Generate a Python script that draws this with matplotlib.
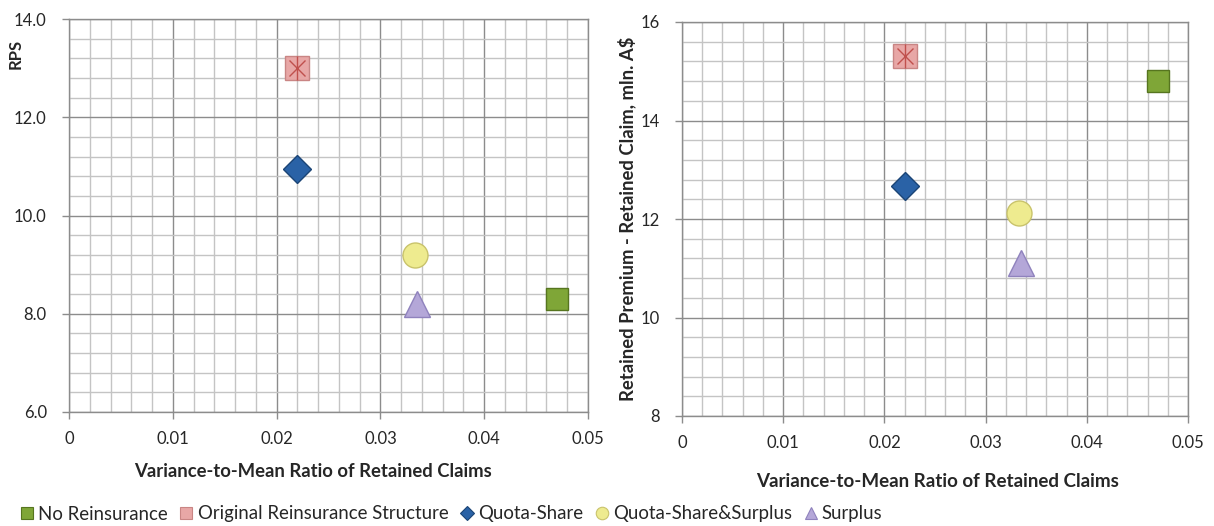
import matplotlib
matplotlib.use("Agg")
import matplotlib.pyplot as plt
from matplotlib.lines import Line2D
from matplotlib.ticker import MultipleLocator, FixedLocator, FixedFormatter

plt.rcParams['font.family'] = ['Lato', 'DejaVu Sans']

# ---- data ----
series_names = ["No Reinsurance", "Original Reinsurance Structure", "Quota-Share",
                "Quota-Share&Surplus", "Surplus"]
vmr = [0.047, 0.022, 0.022, 0.0333, 0.0335]          # variance-to-mean ratio
rps = [8.3, 13.0, 10.95, 9.2, 8.2]                    # RPS
profit = [14.8, 15.3, 12.68, 12.12, 11.1]             # retained premium - retained claim

x_ticks = [0, 0.01, 0.02, 0.03, 0.04, 0.05]
x_tick_labels = ["0", "0.01", "0.02", "0.03", "0.04", "0.05"]
rps_ticks = [6, 8, 10, 12, 14]
rps_tick_labels = ["6.0", "8.0", "10.0", "12.0", "14.0"]
profit_ticks = [8, 10, 12, 14, 16]
profit_tick_labels = ["8", "10", "12", "14", "16"]

# ---- styles ----
styles = [
    dict(marker='s', ms=16.5, mfc='#7FA637', mec='#56751F'),
    dict(marker='s', ms=17.5, mfc='#E8A7A6', mec='#C98584'),
    dict(marker='D', ms=14, mfc='#2A62A6', mec='#1B4576'),
    dict(marker='o', ms=18, mfc='#EEEB8F', mec='#C9C36B'),
    dict(marker='^', ms=18.5, mfc='#B4A7D8', mec='#8F82BD'),
]
text_col = '#262626'
W, H = 1214, 526
fig = plt.figure(figsize=(W / 100, H / 100), dpi=100)


def make_axes(l, r, t, b):
    return fig.add_axes([l / W, 1 - b / H, (r - l) / W, (b - t) / H])


def style_axes(ax, yticks, ylabels, ylim, ymin_step):
    ax.set_xlim(0, 0.05)
    ax.set_ylim(*ylim)
    ax.xaxis.set_major_locator(FixedLocator(x_ticks))
    ax.xaxis.set_major_formatter(FixedFormatter(x_tick_labels))
    ax.xaxis.set_minor_locator(MultipleLocator(0.002))
    ax.yaxis.set_major_locator(FixedLocator(yticks))
    ax.yaxis.set_major_formatter(FixedFormatter(ylabels))
    ax.yaxis.set_minor_locator(MultipleLocator(ymin_step))
    ax.grid(which='major', color='#8C8C8C', lw=1.0)
    ax.grid(which='minor', color='#C4C4C4', lw=1.0)
    ax.set_axisbelow(True)
    for s in ax.spines.values():
        s.set_color('#8C8C8C')
        s.set_linewidth(1.0)
    ax.tick_params(which='major', length=5, color='#8C8C8C', width=1.0,
                   labelsize=12, labelcolor=text_col)
    ax.tick_params(axis='x', which='major', pad=9)
    ax.tick_params(axis='y', which='major', pad=11)
    ax.tick_params(which='minor', length=0)


def draw_points(ax, ys):
    for i, (x, y) in enumerate(zip(vmr, ys)):
        ax.plot([x], [y], ls='none', mew=1.0, zorder=3, **styles[i])
        if i == 1:
            ax.plot([x], [y], ls='none', marker='x', ms=12, mew=1.0,
                    color='#C0504D', zorder=4)
            ax.plot([x], [y], ls='none', marker='|', ms=17, mew=1.0,
                    color='#C0504D', zorder=4)


# left panel: RPS
ax1 = make_axes(69, 588, 19, 412)
style_axes(ax1, rps_ticks, rps_tick_labels, (6, 14), 0.4)
draw_points(ax1, rps)
ax1.set_ylabel("RPS", fontsize=12, fontweight='bold', color=text_col)
ax1.yaxis.set_label_coords(-0.088, 0.91)
ax1.set_xlabel("Variance-to-Mean Ratio of Retained Claims", fontsize=13.3,
               fontweight='bold', color=text_col)
ax1.xaxis.set_label_coords(0.47, -0.13)

# right panel: retained premium minus retained claim
ax2 = make_axes(682, 1188, 22, 416)
style_axes(ax2, profit_ticks, profit_tick_labels, (8, 16), 0.4)
draw_points(ax2, profit)
ax2.set_ylabel("Retained Premium - Retained Claim, mln. A$", fontsize=13.3,
               fontweight='bold', color=text_col)
ax2.yaxis.set_label_coords(-0.09, 0.5)
ax2.set_xlabel("Variance-to-Mean Ratio of Retained Claims", fontsize=13.5,
               fontweight='bold', color=text_col)
ax2.xaxis.set_label_coords(0.505, -0.145)

# shared legend along the bottom
handles = []
for i, name in enumerate(series_names):
    st = dict(styles[i])
    st['ms'] = 9 if st['marker'] != 'D' else 7
    handles.append(Line2D([], [], ls='none', mew=0.8, label=name, **st))
leg = fig.legend(handles=handles, loc='center left', ncol=5,
                 bbox_to_anchor=(12 / W, 1 - 514 / H), frameon=False,
                 fontsize=13.4, handlelength=0.8, handletextpad=0.2,
                 columnspacing=0.6, borderaxespad=0)
for t in leg.get_texts():
    t.set_color(text_col)

fig.savefig("out.png", dpi=100, facecolor='white')
